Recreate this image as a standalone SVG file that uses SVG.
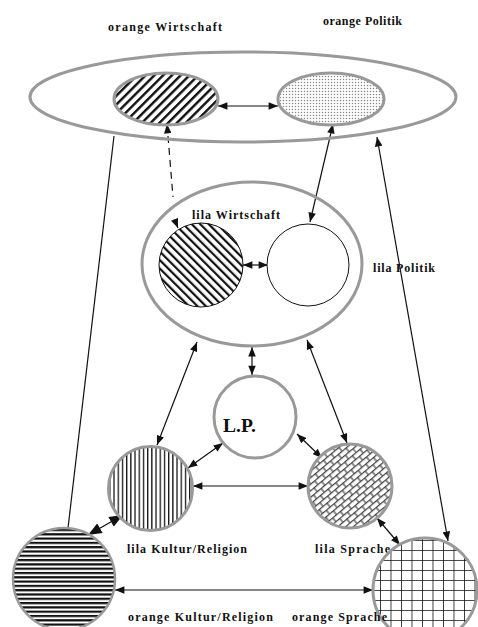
<svg xmlns="http://www.w3.org/2000/svg" width="478" height="627" viewBox="0 0 478 627">
<style>
.lbl{font-family:"Liberation Serif","Times New Roman",serif;font-weight:bold;font-size:12px;fill:#111}
.gray{stroke:#999;stroke-width:3}
.thin{stroke:#111;stroke-width:1}
.con{stroke:#111;stroke-width:1.2;fill:none}
.arr{marker-start:url(#ah);marker-end:url(#ah)}
</style>
<defs>
<marker id="ah" viewBox="0 0 10 8" refX="10" refY="4" markerWidth="10" markerHeight="7.5" markerUnits="userSpaceOnUse" orient="auto-start-reverse">
<path d="M0,0 L10,4 L0,8 Z" fill="#111"/>
</marker>
<marker id="ahb" viewBox="0 0 10 8" refX="10" refY="4" markerWidth="14" markerHeight="11" markerUnits="userSpaceOnUse" orient="auto-start-reverse">
<path d="M0,0 L10,4 L0,8 Z" fill="#111"/>
</marker>
<pattern id="diagR" patternUnits="userSpaceOnUse" width="6.2" height="6" patternTransform="rotate(45)">
<rect width="6.2" height="6" fill="#fff"/><rect x="0" y="0" width="2.4" height="6" fill="#111"/>
</pattern>
<pattern id="diagL" patternUnits="userSpaceOnUse" width="6" height="6" patternTransform="rotate(-45)">
<rect width="6" height="6" fill="#fff"/><rect x="0" y="0" width="2.2" height="6" fill="#111"/>
</pattern>
<pattern id="dots" patternUnits="userSpaceOnUse" width="3" height="3">
<rect width="3" height="3" fill="#fff"/><circle cx="1.5" cy="1.5" r="0.75" fill="#888"/>
</pattern>
<pattern id="vert" patternUnits="userSpaceOnUse" width="4.2" height="4">
<rect width="4.2" height="4" fill="#fff"/><rect x="0" y="0" width="1.3" height="4" fill="#111"/>
</pattern>
<pattern id="horiz" patternUnits="userSpaceOnUse" width="4" height="4.3">
<rect width="4" height="4.3" fill="#fff"/><rect x="0" y="0" width="4" height="2.2" fill="#111"/>
</pattern>
<pattern id="grid" patternUnits="userSpaceOnUse" width="10.5" height="10" x="2" y="0">
<rect width="10.5" height="10" fill="#fff"/><path d="M0,0 V10 M0,0 H10.5" stroke="#111" stroke-width="1.6"/>
</pattern>
<pattern id="cross" patternUnits="userSpaceOnUse" width="10" height="10" patternTransform="rotate(-40)">
<rect width="10" height="10" fill="#fff"/><path d="M0,0.6 H10 M0,5.6 H10" stroke="#444" stroke-width="1.2"/><path d="M2,0 V5 M7,5 V10" stroke="#444" stroke-width="1.2"/>
</pattern>
</defs>

<g id="connectors">
<line class="con arr" x1="218" y1="106" x2="278" y2="106"/>
<path class="con" d="M167,124 L173,197 M176,223 L178,228" stroke-dasharray="7,5" style="marker-start:url(#ah);marker-end:url(#ah)"/>
<line class="con arr" x1="333" y1="124" x2="310" y2="222"/>
<line class="con" x1="114" y1="136" x2="68" y2="528"/>
<line class="con arr" x1="377" y1="137" x2="448" y2="541"/>
<line class="con arr" x1="243" y1="265" x2="268" y2="265"/>
<line class="con arr" x1="252" y1="347" x2="252" y2="375"/>
<line class="con arr" x1="197" y1="342" x2="157" y2="445"/>
<line class="con arr" x1="307" y1="340" x2="347" y2="443"/>
<line class="con arr" x1="223" y1="443" x2="188" y2="468"/>
<line class="con arr" x1="297" y1="434" x2="322" y2="458"/>
<line class="con arr" x1="193" y1="486" x2="308" y2="486" stroke-width="2"/>
<line class="con" x1="123" y1="515" x2="88" y2="535" stroke-width="3" style="marker-start:url(#ahb);marker-end:url(#ahb)"/>
<line class="con arr" x1="377" y1="518" x2="400" y2="545"/>
<line class="con arr" x1="115" y1="590" x2="373" y2="590"/>
</g>

<g id="orange-frame">
<ellipse cx="243" cy="97" rx="213" ry="45" fill="none" class="gray"/>
</g>
<g id="orange-wirtschaft">
<ellipse cx="166" cy="99" rx="52" ry="26" fill="url(#diagR)" class="gray"/>
<text class="lbl" x="108" y="31" textLength="114" lengthAdjust="spacing">orange Wirtschaft</text>
</g>
<g id="orange-politik">
<ellipse cx="331" cy="99" rx="53" ry="26" fill="url(#dots)" class="gray"/>
<text class="lbl" x="323" y="25" textLength="79" lengthAdjust="spacing">orange Politik</text>
</g>
<g id="lila-frame">
<ellipse cx="252" cy="264" rx="110" ry="82" fill="none" class="gray"/>
</g>
<g id="lila-wirtschaft">
<circle cx="201" cy="265" r="42" fill="url(#diagL)" class="thin"/>
<text class="lbl" x="192" y="219" textLength="88" lengthAdjust="spacing">lila Wirtschaft</text>
</g>
<g id="lila-politik">
<circle cx="308" cy="265" r="41" fill="#fff" class="thin"/>
<text class="lbl" x="373" y="272" textLength="62" lengthAdjust="spacing">lila Politik</text>
</g>
<g id="lp">
<circle cx="255" cy="417" r="41" fill="#fff" class="gray"/>
<text class="lbl" x="223" y="432" style="font-size:19px" textLength="33" lengthAdjust="spacingAndGlyphs">L.P.</text>
</g>
<g id="lila-kultur">
<circle cx="150.5" cy="488.5" r="42" fill="url(#vert)" class="gray"/>
<text class="lbl" x="127" y="553" textLength="120" lengthAdjust="spacing">lila Kultur/Religion</text>
</g>
<g id="lila-sprache">
<circle cx="350" cy="486" r="42" fill="url(#cross)" class="gray"/>
<text class="lbl" x="315" y="553" textLength="75" lengthAdjust="spacing">lila Sprache</text>
</g>
<g id="orange-kultur">
<circle cx="64" cy="579" r="51" fill="url(#horiz)" stroke="#999" stroke-width="2.5"/>
<text class="lbl" x="128" y="621" textLength="145" lengthAdjust="spacing">orange Kultur/Religion</text>
</g>
<g id="orange-sprache">
<circle cx="425" cy="590" r="52" fill="url(#grid)" class="gray"/>
<text class="lbl" x="292" y="621" textLength="95" lengthAdjust="spacing">orange Sprache</text>
</g>
</svg>
